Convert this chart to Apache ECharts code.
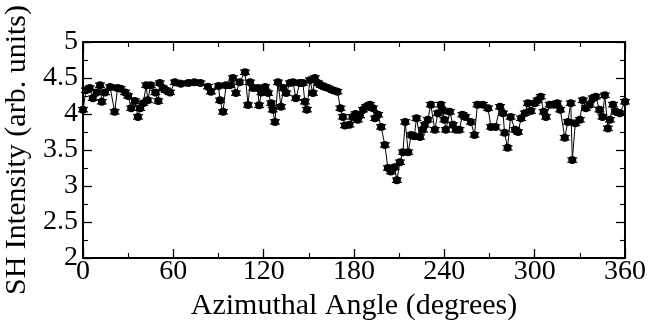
<!DOCTYPE html>
<html>
<head>
<meta charset="utf-8">
<script src="https://cdn.jsdelivr.net/npm/echarts@6/dist/echarts.min.js"></script>
<style>html,body{margin:0;padding:0;background:#fff}#c{width:650px;height:321px}</style>
</head>
<body>
<div id="c"></div>
<script>
const angles = [0,2,4.5,6.5,9,11.3,12.5,14.6,18,21,23,25,28,30,32,34.5,36.5,38,40,42,43,45,48,50,51,53,55,57.8,61,65,70,74,78,83,85,90,91,93,95,97.6,99.6,101.6,104,107.6,109.6,111,113,116,117,118.5,121,123,125,126,127.5,129.5,131.5,133,135,137.5,139.5,141.4,144,146,147.4,148.7,150.7,152.7,154,156,158,160.7,162.7,166,169,171,172.6,174,177,179,181,182.6,184,186,188,190.6,192.6,194,196,198,200.5,202.5,204.5,207,208.5,210.5,212.5,214,216,218,220,221.5,223.8,225.8,227,229,231,233.7,235.7,237.7,239,240,241,243.7,245.7,247.7,250,252,254,257.6,260,262,265.6,269,271,274,277,279,280,282,284,287,289,291,293.5,295.5,297.5,300,302,304,306,307.5,310,313,315,317,320,322,324,325,327,330,332,334,336.6,338.6,340.6,343,345,346.6,348.6,350,352,354,356.6,360];
const intensity = [4.06,4.33,4.36,4.22,4.30,4.40,4.17,4.30,4.375,4.03,4.36,4.35,4.30,4.25,4.08,4.18,3.96,4.08,4.15,4.40,4.19,4.40,4.30,4.18,4.43,4.36,4.33,4.30,4.44,4.42,4.43,4.44,4.43,4.38,4.31,4.39,4.19,4.03,4.40,4.40,4.50,4.29,4.44,4.58,4.125,4.44,4.36,4.36,4.12,4.30,4.375,4.29,4.15,4.06,3.89,4.44,4.10,4.36,4.29,4.43,4.44,4.22,4.43,4.43,4.17,4.06,4.47,4.29,4.50,4.43,4.40,4.375,4.36,4.33,4.31,4.08,3.96,3.84,3.85,3.96,4.00,3.92,3.98,4.06,4.10,4.13,4.08,3.94,3.99,3.82,3.57,3.25,3.20,3.26,3.08,3.33,3.47,3.89,3.47,3.71,3.69,3.94,3.68,3.78,3.85,3.92,4.13,3.78,4.01,4.13,4.05,3.92,3.78,4.03,3.85,3.78,3.78,3.99,3.96,3.89,3.71,4.13,4.13,4.08,3.82,3.82,4.10,4.01,3.74,3.53,3.96,3.78,3.75,3.94,4.01,4.15,4.04,4.15,4.19,4.24,4.03,3.96,4.13,4.13,4.15,4.06,3.67,3.89,4.15,3.36,3.87,3.92,4.19,4.08,4.13,4.22,4.24,4.06,3.96,4.26,3.80,3.92,4.13,4.03,4.01,4.17];
const errorBar = 0.03;
const xTicks = [0,60,120,180,240,300,360];
const yTicks = [2,2.5,3,3.5,4,4.5,5];

const FONT = '"Liberation Serif","DejaVu Serif",serif';
const points = angles.map((a,i)=>[a,intensity[i]]);
const errData = angles.map((a,i)=>[a,intensity[i]-errorBar,intensity[i]+errorBar]);

const chart = echarts.init(document.getElementById('c'));
const axisCommon = {
  axisLine:{show:true,onZero:false,lineStyle:{color:'#000',width:2}},
  axisTick:{show:true,inside:true,length:9,lineStyle:{color:'#000',width:1.3}},
  minorTick:{show:true,splitNumber:2,length:5,lineStyle:{color:'#000',width:1.1}},
  splitLine:{show:false}
};
chart.setOption({
  animation:false,
  backgroundColor:'#fff',
  grid:{left:83,right:25,top:42,bottom:63,containLabel:false,outerBoundsMode:'none'},
  xAxis:[
    Object.assign({type:'value',min:xTicks[0],max:xTicks[xTicks.length-1],interval:60,position:'bottom',
      name:'Azimuthal Angle (degrees)',nameLocation:'middle',nameGap:27,
      nameTextStyle:{fontFamily:FONT,fontSize:30,color:'#000'},
      axisLabel:{fontFamily:FONT,fontSize:28,color:'#000',margin:0}},axisCommon),
    Object.assign({type:'value',min:0,max:360,interval:60,position:'top',axisLabel:{show:false}},axisCommon)
  ],
  yAxis:[
    Object.assign({type:'value',min:yTicks[0],max:yTicks[yTicks.length-1],interval:0.5,position:'left',
      name:'SH Intensity (arb. units)',nameLocation:'middle',nameGap:47,
      nameTextStyle:{fontFamily:FONT,fontSize:30,color:'#000'},
      axisLabel:{fontFamily:FONT,fontSize:28,color:'#000',margin:5,
        formatter:v=>String(v)}},axisCommon),
    Object.assign({type:'value',min:2,max:5,interval:0.5,position:'right',axisLabel:{show:false}},axisCommon)
  ],
  series:[
    {type:'line',data:points,symbol:'circle',symbolSize:8,showSymbol:true,
      itemStyle:{color:'#000'},lineStyle:{color:'#000',width:1},z:3},
    {type:'custom',data:errData,z:4,
      renderItem:(params,api)=>{
        const x=api.value(0);
        const lo=api.coord([x,api.value(1)]);
        const hi=api.coord([x,api.value(2)]);
        const w=5;
        const st={stroke:'#000',lineWidth:1.2};
        return {type:'group',children:[
          {type:'line',shape:{x1:lo[0],y1:lo[1],x2:hi[0],y2:hi[1]},style:st},
          {type:'line',shape:{x1:lo[0]-w,y1:lo[1],x2:lo[0]+w,y2:lo[1]},style:st},
          {type:'line',shape:{x1:hi[0]-w,y1:hi[1],x2:hi[0]+w,y2:hi[1]},style:st}
        ]};
      }}
  ]
});
</script>
</body>
</html>
